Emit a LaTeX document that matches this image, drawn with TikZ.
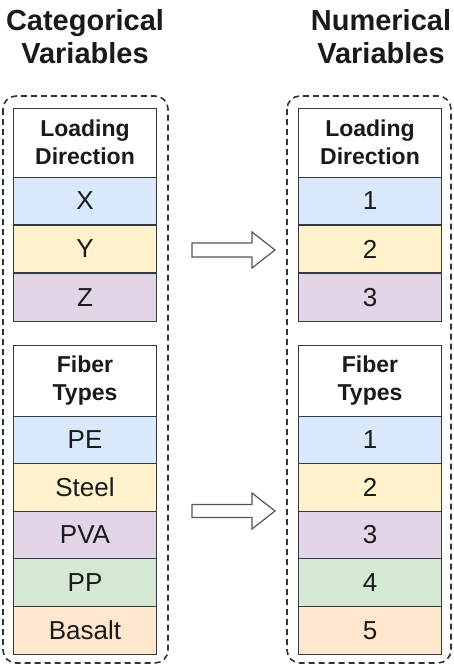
\documentclass[tikz,border=0pt]{standalone}
\usepackage{fontspec}
\setmainfont{Liberation Sans}
\definecolor{cblue}{HTML}{DAE8FC}
\definecolor{cyellow}{HTML}{FFF2CC}
\definecolor{cpurple}{HTML}{E1D5E7}
\definecolor{cgreen}{HTML}{D5E8D4}
\definecolor{corange}{HTML}{FFE6CC}
\definecolor{cborder}{HTML}{36393D}
\definecolor{ctext}{HTML}{1A1A1A}
\definecolor{cdash}{HTML}{333333}
\definecolor{carrow}{HTML}{555555}
\tikzset{
  cell/.style={draw=cborder, line width=1pt, minimum width=143pt, minimum height=47.6pt,
    inner sep=0pt, text=ctext, font=\fontsize{26}{26}\selectfont},
  headcell/.style={cell, fill=white, align=center, font=\bfseries\fontsize{23}{28.5}\selectfont},
  title/.style={align=center, inner sep=0pt, text=ctext, font=\bfseries\fontsize{29}{33}\selectfont},
  group/.style={draw=cdash, line width=1.6pt, dash pattern=on 6pt off 4pt, rounded corners=13pt},
  blockarrow/.style={draw=carrow, fill=white, line width=1.2pt, line join=miter}
}
\begin{document}
\begin{tikzpicture}[x=1pt,y=-1pt]
\useasboundingbox (0,0) rectangle (454,667);

% titles
\node[title] (tl) at (85,36.5) {Categorical\\Variables};
\node[title] (tr) at (381,36.5) {Numerical\\Variables};

% dashed groups
\draw[group] (3,96) rectangle (168,663);
\draw[group] (287,96) rectangle (451,663);

% left column
\node[headcell, minimum height=69pt] (lh1) at (85,142.5) {Loading\\Direction};
\node[cell, fill=cblue]   (lx) at (85,201)   {X};
\node[cell, fill=cyellow] (ly) at (85,249)   {Y};
\node[cell, fill=cpurple] (lz) at (85,297.5) {Z};

\node[headcell, minimum height=71pt] (lh2) at (85,380.5) {Fiber\\Types};
\node[cell, fill=cblue]   (l1) at (85,439.8) {PE};
\node[cell, fill=cyellow] (l2) at (85,487.4) {Steel};
\node[cell, fill=cpurple] (l3) at (85,535)   {PVA};
\node[cell, fill=cgreen]  (l4) at (85,582.6) {PP};
\node[cell, fill=corange] (l5) at (85,630.2) {Basalt};

% right column
\node[headcell, minimum height=69pt] (rh1) at (370,142.5) {Loading\\Direction};
\node[cell, fill=cblue]   (rx) at (370,201)   {1};
\node[cell, fill=cyellow] (ry) at (370,249)   {2};
\node[cell, fill=cpurple] (rz) at (370,297.5) {3};

\node[headcell, minimum height=71pt] (rh2) at (370,380.5) {Fiber\\Types};
\node[cell, fill=cblue]   (r1) at (370,439.8) {1};
\node[cell, fill=cyellow] (r2) at (370,487.4) {2};
\node[cell, fill=cpurple] (r3) at (370,535)   {3};
\node[cell, fill=cgreen]  (r4) at (370,582.6) {4};
\node[cell, fill=corange] (r5) at (370,630.2) {5};

% block arrows
\coordinate (a1) at (192,250);
\draw[blockarrow] (a1) ++(0,-7) -- ++(60,0) -- ++(0,-11) -- ++(23,18) -- ++(-23,18) -- ++(0,-11) -- ++(-60,0) -- cycle;
\coordinate (a2) at (192,511);
\draw[blockarrow] (a2) ++(0,-6.5) -- ++(60,0) -- ++(0,-11.5) -- ++(23,18) -- ++(-23,18) -- ++(0,-11.5) -- ++(-60,0) -- cycle;
\end{tikzpicture}
\end{document}
